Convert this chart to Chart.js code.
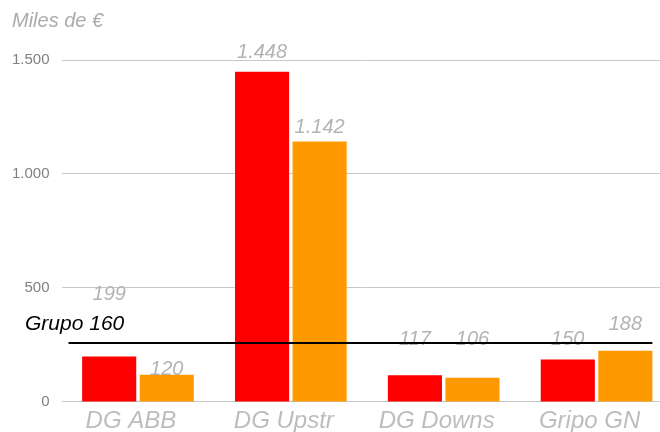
<!DOCTYPE html>
<html lang="es">
<head>
  <meta charset="UTF-8">
  <title>Miles de €</title>
  <script src="https://cdn.jsdelivr.net/npm/chart.js"></script>
  <style>
    html, body { margin: 0; background: #fff; overflow: hidden; }
  </style>
</head>
<body>
  <canvas id="grafico" width="673" height="432"></canvas>

  <script>
    // Datos
    const categorias = ['DG ABB', 'DG Upstr', 'DG Downs', 'Gripo GN'];
    const serieRoja = [199, 1448, 117, 186];
    const serieNaranja = [120, 1142, 106, 225];
    const etiquetasRoja = ['199', '1.448', '117', '150'];
    const etiquetasNaranja = ['120', '1.142', '106', '188'];
    const lineaGrupo = 259;
    const textoGrupo = 'Grupo 160';
    const unidad = 'Miles de €';

    // altura (en valores del eje) donde se apoyan las etiquetas
    const alturaEtiqRoja = [446, 1509, 251, 251];
    const alturaEtiqNaranja = [117, 1182, 251, 317];

    const fmt = v => v.toString().replace(/\B(?=(\d{3})+(?!\d))/g, '.');

    // dibuja etiquetas, la linea del grupo y el titulo
    const extras = {
      id: 'extras',
      afterDatasetsDraw(chart) {
        const ctx = chart.ctx;
        const y = chart.scales.y;
        const area = chart.chartArea;
        ctx.save();

        ctx.font = 'italic 20px "Liberation Sans", Arial, sans-serif';
        ctx.fillStyle = '#b3b3b3';
        ctx.textAlign = 'center';
        ctx.textBaseline = 'alphabetic';
        [[0, etiquetasRoja, alturaEtiqRoja], [1, etiquetasNaranja, alturaEtiqNaranja]].forEach(([i, txt, alt]) => {
          chart.getDatasetMeta(i).data.forEach((bar, j) => {
            ctx.fillText(txt[j], bar.x, y.getPixelForValue(alt[j]));
          });
        });

        // linea de referencia
        const ultima = chart.getDatasetMeta(1).data[categorias.length - 1];
        const py = y.getPixelForValue(lineaGrupo);
        ctx.strokeStyle = '#000';
        ctx.lineWidth = 2;
        ctx.beginPath();
        ctx.moveTo(area.left + 7, py);
        ctx.lineTo(ultima.x + ultima.width / 2, py);
        ctx.stroke();

        ctx.font = 'italic 21px "Liberation Sans", Arial, sans-serif';
        ctx.fillStyle = '#000';
        ctx.textAlign = 'left';
        ctx.fillText(textoGrupo, 25, py - 13);

        ctx.font = 'italic 20px "Liberation Sans", Arial, sans-serif';
        ctx.fillStyle = '#ababab';
        ctx.fillText(unidad, 12, 27);
        ctx.restore();
      }
    };

    new Chart(document.getElementById('grafico').getContext('2d'), {
      type: 'bar',
      data: {
        labels: categorias,
        datasets: [
          { data: serieRoja, backgroundColor: '#ff0000' },
          { data: serieNaranja, backgroundColor: '#ff9900' }
        ]
      },
      options: {
        responsive: false,
        animation: false,
        datasets: {
          bar: { categoryPercentage: 0.753, barPercentage: 0.94 }
        },
        layout: { padding: { top: 60, left: 0, right: 0, bottom: -8 } },
        plugins: { legend: { display: false }, tooltip: { enabled: false } },
        scales: {
          x: {
            grid: { display: false, drawTicks: false },
            border: { display: false },
            ticks: {
              color: '#bdbdbd',
              padding: 8,
              labelOffset: -7,
              maxRotation: 0,
              font: { family: '"Liberation Sans", Arial, sans-serif', size: 24, style: 'italic', lineHeight: 0.917 }
            }
          },
          y: {
            min: 0,
            max: 1500,
            grid: { color: '#c8c8c8', drawTicks: false },
            border: { display: false },
            ticks: {
              stepSize: 500,
              padding: 12,
              color: '#808080',
              font: { family: '"Liberation Sans", Arial, sans-serif', size: 15 },
              callback: v => fmt(v)
            }
          }
        }
      },
      plugins: [extras]
    });
  </script>
</body>
</html>
